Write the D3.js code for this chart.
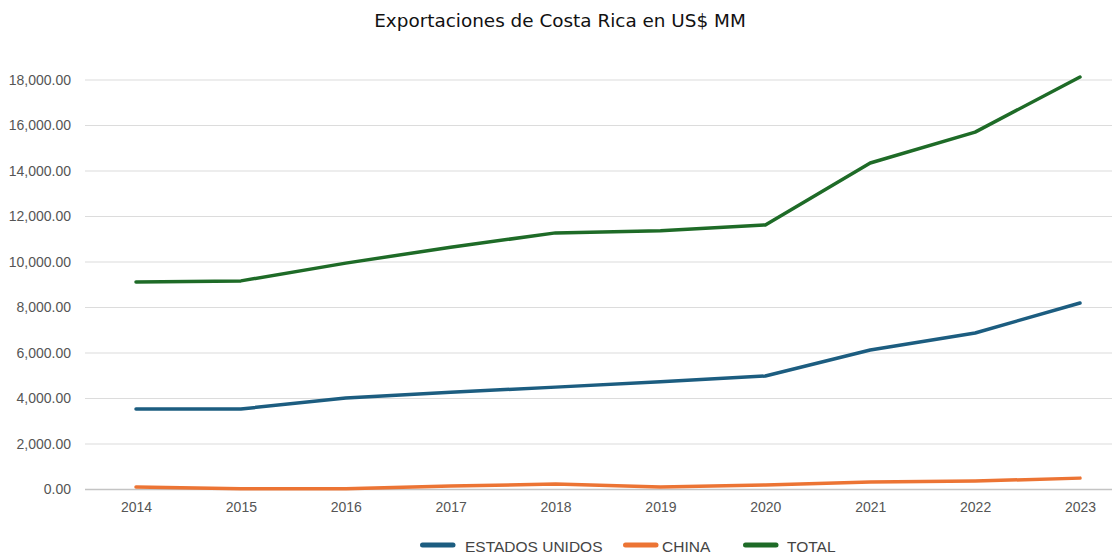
<!DOCTYPE html>
<html>
<head>
<meta charset="utf-8">
<script src="https://cdn.jsdelivr.net/npm/d3@7"></script>
<style>
  body { margin: 0; background: #fff; }
  svg { display: block; }
</style>
</head>
<body>
<div id="chart"></div>
<script>
var years = [2014, 2015, 2016, 2017, 2018, 2019, 2020, 2021, 2022, 2023];
var estadosUnidos = [3540, 3540, 4020, 4280, 4500, 4740, 4990, 6130, 6880, 8200];
var china = [110, 30, 30, 150, 240, 110, 200, 330, 370, 500];
var total = [9120, 9170, 9950, 10650, 11280, 11370, 11630, 14350, 15710, 18130];
var yTicks = [0, 2000, 4000, 6000, 8000, 10000, 12000, 14000, 16000, 18000];
var seriesNames = ['ESTADOS UNIDOS', 'CHINA', 'TOTAL'];
var seriesColors = ['#1c5d80', '#ec7434', '#1e6b27'];

var width = 1112, height = 554;
var gridLeft = 85;

var svg = d3.select('#chart').append('svg')
    .attr('width', width)
    .attr('height', height);

// Title
svg.append('text')
  .text('Exportaciones de Costa Rica en US$ MM')
  .attr('x', 560)
  .attr('y', 27)
  .attr('text-anchor', 'middle')
  .attr('font-family', 'DejaVu Sans, sans-serif')
  .attr('font-size', 18.4)
  .attr('fill', '#111');

var x = d3.scalePoint()
    .domain(years)
    .range([136, 1080]);

var y = d3.scaleLinear()
    .domain([0, 18000])
    .range([489.5, 80]);

// Gridlines
svg.append('g')
  .selectAll('line')
  .data(yTicks)
  .enter()
    .append('line')
      .attr('x1', gridLeft)
      .attr('x2', width)
      .attr('y1', function(d) { return y(d); })
      .attr('y2', function(d) { return y(d); })
      .attr('stroke', function(d) { return d == 0 ? '#c4c4c4' : '#dcdcdc'; })
      .attr('stroke-width', function(d) { return d == 0 ? 1.5 : 1.2; });

// Y axis labels
var yAxis = svg.append('g')
    .attr('transform', 'translate(71,0)')
    .call(d3.axisLeft(y).tickValues(yTicks).tickSize(0).tickPadding(0)
      .tickFormat(d3.format(',.2f')));
yAxis.select('.domain').remove();
yAxis.selectAll('text')
  .attr('font-family', 'Liberation Sans, sans-serif')
  .attr('font-size', 14)
  .attr('fill', '#555');

// X axis labels
var xAxis = svg.append('g')
    .attr('transform', 'translate(0,502)')
    .call(d3.axisBottom(x).tickSize(0).tickPadding(0).tickFormat(d3.format('d')));
xAxis.select('.domain').remove();
xAxis.selectAll('text')
  .attr('font-family', 'Liberation Sans, sans-serif')
  .attr('font-size', 14)
  .attr('fill', '#555');

// Lines
var seriesData = [estadosUnidos, china, total];
var line = d3.line()
    .x(function(d, i) { return x(years[i]); })
    .y(function(d) { return y(d); });

svg.append('g')
  .selectAll('path')
  .data(seriesData)
  .enter()
    .append('path')
      .attr('d', line)
      .attr('fill', 'none')
      .attr('stroke', function(d, i) { return seriesColors[i]; })
      .attr('stroke-width', 3.5)
      .attr('stroke-linejoin', 'round')
      .attr('stroke-linecap', 'round');

// Legend
var swatchX = [420, 623, 743];
var labelX = [465, 662, 787];
var legend = svg.append('g')
  .selectAll('g')
  .data(seriesNames)
  .enter()
    .append('g');

legend.append('line')
  .attr('x1', function(d, i) { return swatchX[i] + 2.5; })
  .attr('x2', function(d, i) { return swatchX[i] + 33; })
  .attr('y1', 545)
  .attr('y2', 545)
  .attr('stroke', function(d, i) { return seriesColors[i]; })
  .attr('stroke-width', 5)
  .attr('stroke-linecap', 'round');

legend.append('text')
  .text(function(d) { return d; })
  .attr('x', function(d, i) { return labelX[i]; })
  .attr('y', 551.5)
  .attr('font-family', 'Liberation Sans, sans-serif')
  .attr('font-size', 15.5)
  .attr('fill', '#444');
</script>
</body>
</html>
